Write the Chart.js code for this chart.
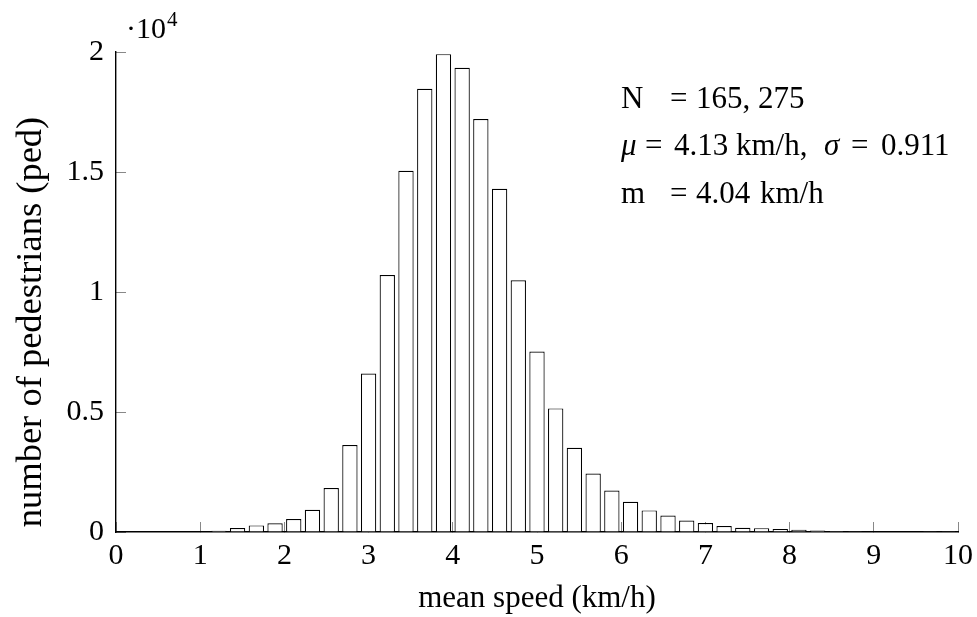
<!DOCTYPE html>
<html>
<head>
<meta charset="utf-8">
<script src="https://cdn.jsdelivr.net/npm/chart.js@4"></script>
<style>
  html, body { margin: 0; padding: 0; background: #fff; }
  #wrap { width: 977px; height: 617px; }
</style>
</head>
<body>
<div id="wrap"><canvas id="hist" width="977" height="617"></canvas></div>
<script>
// histogram of mean walking speed, 45 bins over 0..10 km/h
const speeds = [0.111, 0.333, 0.556, 0.778, 1.000, 1.222, 1.444, 1.667, 1.889, 2.111,
  2.333, 2.556, 2.778, 3.000, 3.222, 3.444, 3.667, 3.889, 4.111, 4.333,
  4.556, 4.778, 5.000, 5.222, 5.444, 5.667, 5.889, 6.111, 6.333, 6.556,
  6.778, 7.000, 7.222, 7.444, 7.667, 7.889, 8.111, 8.333, 8.556, 8.778,
  9.000, 9.222, 9.444, 9.667, 9.889];
const counts = [0, 0, 0, 0, 0, 55, 165, 275, 360, 540,
  930, 1830, 3620, 6600, 10710, 15050, 18470, 19910, 19340, 17210,
  14300, 10490, 7520, 5150, 3510, 2440, 1730, 1260, 900, 690,
  480, 370, 250, 180, 160, 130, 90, 60, 45, 35,
  25, 20, 15, 10, 8];
const xTicks = [0, 1, 2, 3, 4, 5, 6, 7, 8, 9, 10];
const yTicks = [0, 5000, 10000, 15000, 20000];
const yTickLabels = ['0', '0.5', '1', '1.5', '2'];
const yTitle = 'number of pedestrians (ped)';

const FONT = '"Liberation Serif", "Times New Roman", serif';

const overlay = {
  id: 'overlay',
  afterDraw(chart) {
    const ctx = chart.ctx;
    const ca = chart.chartArea;
    ctx.save();
    ctx.fillStyle = '#000';
    ctx.textBaseline = 'alphabetic';
    // axis multiplier
    ctx.font = '30px ' + FONT;
    ctx.fillText('\u00b710', ca.left + 10, ca.top - 14);
    const w = ctx.measureText('\u00b710').width;
    ctx.font = '21px ' + FONT;
    ctx.fillText('4', ca.left + 10 + w + 1, ca.top - 26);

    // y axis title (drawn here, it is larger than the other text)
    ctx.save();
    ctx.translate(31, 322);
    ctx.rotate(-Math.PI / 2);
    ctx.textAlign = 'center';
    ctx.textBaseline = 'middle';
    ctx.font = '36.5px ' + FONT;
    ctx.fillText(yTitle, 0, 0);
    ctx.restore();

    // stats box
    const put = (txt, x, y, italic) => {
      ctx.font = (italic ? 'italic ' : '') + '31px ' + FONT;
      ctx.fillText(txt, x, y);
    };
    put('N', 621, 108);
    put('=', 670, 108);
    put('165, 275', 696, 108);
    put('\u03bc', 621, 155, true);
    put('=', 645, 155);
    put('4.13', 674, 155);
    put('km/h,', 736, 155);
    put('\u03c3', 824, 155, true);
    put('=', 851, 155);
    put('0.911', 881, 155);
    put('m', 621, 203);
    put('=', 670, 203);
    put('4.04', 696, 203);
    put('km/h', 760, 203);
    ctx.restore();
  }
};

new Chart(document.getElementById('hist'), {
  type: 'bar',
  data: {
    datasets: [{
      data: speeds.map((s, i) => ({ x: s, y: counts[i] })),
      backgroundColor: '#fff',
      borderColor: '#000',
      borderWidth: 1.2,
      barPercentage: 0.82,
      categoryPercentage: 1
    }]
  },
  options: {
    responsive: false,
    animation: false,
    layout: { padding: { top: 52, right: 19, left: 0, bottom: 0 } },
    plugins: { legend: { display: false }, tooltip: { enabled: false } },
    scales: {
      x: {
        type: 'linear',
        min: 0, max: 10,
        offset: false,
        afterFit: s => { s.height = 85; s.paddingRight = 19; s.paddingLeft = 0; },
        afterBuildTicks: s => { s.ticks = xTicks.map(v => ({ value: v })); },
        ticks: { color: '#000', padding: 16, font: { family: FONT, size: 30 }, maxRotation: 0 },
        grid: { offset: false, drawOnChartArea: false, tickLength: -10, color: '#888', lineWidth: 1 },
        border: { color: '#000', width: 1.4 },
        title: { display: true, text: 'mean speed (km/h)', color: '#000', font: { family: FONT, size: 31 }, padding: { top: 0, bottom: 0 } }
      },
      y: {
        min: 0, max: 20000,
        afterFit: s => { s.width = 116; },
        afterBuildTicks: s => { s.ticks = yTicks.map(v => ({ value: v })); },
        ticks: {
          color: '#000', padding: 22, font: { family: FONT, size: 30 },
          callback: v => yTickLabels[yTicks.indexOf(v)]
        },
        grid: { drawOnChartArea: false, tickLength: -10, color: '#888', lineWidth: 1 },
        border: { color: '#000', width: 1.4 },
        title: { display: false }
      }
    }
  },
  plugins: [overlay]
});
</script>
</body>
</html>
